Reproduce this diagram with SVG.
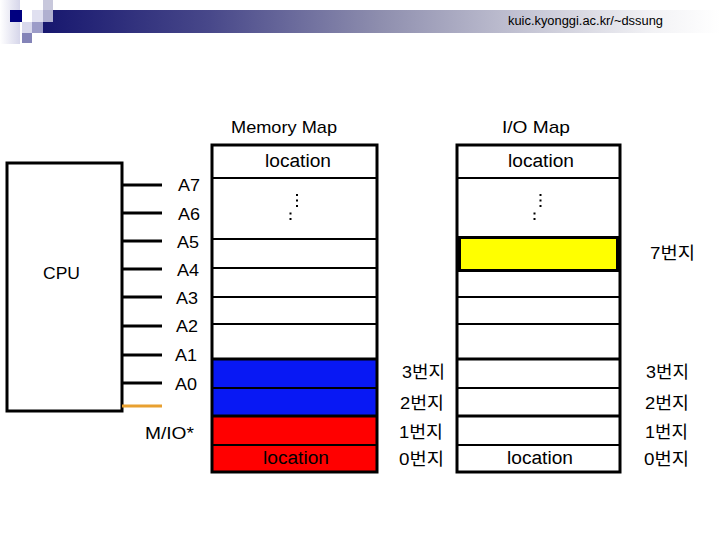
<svg xmlns="http://www.w3.org/2000/svg" width="720" height="540" viewBox="0 0 720 540">
<defs>
<linearGradient id="bar" x1="0" y1="0" x2="1" y2="0">
<stop offset="0" stop-color="#16166e"/>
<stop offset="0.25" stop-color="#48488a"/>
<stop offset="0.5" stop-color="#8e8eae"/>
<stop offset="0.75" stop-color="#cdcdda"/>
<stop offset="0.9" stop-color="#f2f2f5"/>
<stop offset="1" stop-color="#ffffff"/>
</linearGradient>
<linearGradient id="fade" x1="0" y1="0" x2="1" y2="0">
<stop offset="0" stop-color="#ffffff"/>
<stop offset="1" stop-color="#d6d6ea"/>
</linearGradient>
</defs>
<style>
text{font-family:"Liberation Sans","Noto Sans CJK KR",Arial,sans-serif;fill:#000}
.lbl{font-size:17px}
.big{font-size:18px}
.ko{font-size:17px}
.col{fill:none;stroke:#000;stroke-width:3}
.ln{stroke:#000;stroke-width:2}
.tk{stroke:#000;stroke-width:3}
.pin{stroke:#000;stroke-width:3}
.dot{fill:#000}
</style>
<rect width="720" height="540" fill="#fff"/>
<g id="header">
<rect x="0" y="0" width="20" height="44" fill="url(#fade)"/>
<rect x="40" y="10" width="680" height="23" fill="url(#bar)"/>
<rect x="10" y="10" width="12" height="12" fill="#000080"/>
<rect x="43" y="0" width="10" height="10" fill="#c8c8dc"/>
<rect x="32" y="10" width="11" height="12" fill="#e0e0f0"/>
<rect x="43" y="10" width="10" height="12" fill="#b0b0d0"/>
<rect x="22" y="22" width="10" height="11" fill="#d8d8ec"/>
<rect x="32" y="22" width="11" height="11" fill="#9c9cc8"/>
<rect x="22" y="33" width="10" height="10" fill="#8484b8"/>
<text x="508" y="25" font-size="12" textLength="155" lengthAdjust="spacingAndGlyphs">kuic.kyonggi.ac.kr/~dssung</text>
</g>
<g id="cpu">
<rect x="7" y="163" width="115" height="248" fill="#fff" stroke="#000" stroke-width="3"/>
<text x="43" y="279" class="lbl" textLength="37" lengthAdjust="spacingAndGlyphs">CPU</text>
</g>
<g id="connectors">
<line class="pin" x1="122" y1="185" x2="162" y2="185"/>
<line class="pin" x1="122" y1="213" x2="162" y2="213"/>
<line class="pin" x1="122" y1="241" x2="162" y2="241"/>
<line class="pin" x1="122" y1="269" x2="162" y2="269"/>
<line class="pin" x1="122" y1="297" x2="162" y2="297"/>
<line class="pin" x1="122" y1="326" x2="162" y2="326"/>
<line class="pin" x1="122" y1="355" x2="162" y2="355"/>
<line class="pin" x1="122" y1="383" x2="162" y2="383"/>
<line x1="122" y1="406" x2="162" y2="406" stroke="#e8a030" stroke-width="3"/>
</g>
<g id="pins">
<text x="178" y="191" class="lbl" textLength="22" lengthAdjust="spacingAndGlyphs">A7</text>
<text x="178" y="220" class="lbl" textLength="22" lengthAdjust="spacingAndGlyphs">A6</text>
<text x="177" y="248" class="lbl" textLength="22" lengthAdjust="spacingAndGlyphs">A5</text>
<text x="177" y="276" class="lbl" textLength="22" lengthAdjust="spacingAndGlyphs">A4</text>
<text x="176" y="304" class="lbl" textLength="22" lengthAdjust="spacingAndGlyphs">A3</text>
<text x="176" y="332" class="lbl" textLength="22" lengthAdjust="spacingAndGlyphs">A2</text>
<text x="175" y="361" class="lbl" textLength="22" lengthAdjust="spacingAndGlyphs">A1</text>
<text x="175" y="390" class="lbl" textLength="22" lengthAdjust="spacingAndGlyphs">A0</text>
<text x="145" y="439" class="lbl" textLength="49" lengthAdjust="spacingAndGlyphs">M/IO*</text>
</g>
<g id="memory-map">
<text x="231" y="133" class="lbl" textLength="106" lengthAdjust="spacingAndGlyphs">Memory Map</text>
<rect x="212" y="145" width="165" height="327" fill="#fff"/>
<rect x="212" y="359" width="165" height="57" fill="#0818f4"/>
<rect x="212" y="416" width="165" height="56" fill="#ff0000"/>
<line class="ln" x1="212" y1="178" x2="377" y2="178"/>
<line class="ln" x1="212" y1="239" x2="377" y2="239"/>
<line class="ln" x1="212" y1="268" x2="377" y2="268"/>
<line class="ln" x1="212" y1="297" x2="377" y2="297"/>
<line class="ln" x1="212" y1="324" x2="377" y2="324"/>
<line class="tk" x1="212" y1="359" x2="377" y2="359"/>
<line class="ln" x1="212" y1="388" x2="377" y2="388"/>
<line class="tk" x1="212" y1="416" x2="377" y2="416"/>
<line class="ln" x1="212" y1="445" x2="377" y2="445"/>
<rect class="col" x="212" y="145" width="165" height="327"/>
<text x="265" y="167" class="big" textLength="66" lengthAdjust="spacingAndGlyphs">location</text>
<text x="263" y="464" class="big" textLength="66" lengthAdjust="spacingAndGlyphs">location</text>
<rect class="dot" x="296" y="194" width="2" height="2"/>
<rect class="dot" x="296" y="199.5" width="2" height="2"/>
<rect class="dot" x="296" y="205" width="2" height="2"/>
<rect class="dot" x="289.5" y="212.5" width="2" height="2"/>
<rect class="dot" x="289.5" y="218" width="2" height="2"/>
</g>
<g id="io-map">
<text x="502" y="133" class="lbl" textLength="68" lengthAdjust="spacingAndGlyphs">I/O Map</text>
<rect x="457" y="145" width="163" height="327" fill="#fff"/>
<line class="ln" x1="457" y1="178" x2="620" y2="178"/>
<line class="ln" x1="457" y1="297" x2="620" y2="297"/>
<line class="ln" x1="457" y1="324" x2="620" y2="324"/>
<line class="tk" x1="457" y1="359" x2="620" y2="359"/>
<line class="ln" x1="457" y1="388" x2="620" y2="388"/>
<line class="tk" x1="457" y1="416" x2="621" y2="416"/>
<line class="ln" x1="457" y1="445" x2="621" y2="445"/>
<rect class="col" x="457" y="145" width="163" height="327"/>
<rect x="459.5" y="237.5" width="158" height="33" fill="#ffff00" stroke="#000" stroke-width="3"/>
<text x="508" y="167" class="big" textLength="66" lengthAdjust="spacingAndGlyphs">location</text>
<text x="507" y="464" class="big" textLength="66" lengthAdjust="spacingAndGlyphs">location</text>
<rect class="dot" x="539.5" y="194" width="2" height="2"/>
<rect class="dot" x="539.5" y="199.5" width="2" height="2"/>
<rect class="dot" x="539.5" y="205" width="2" height="2"/>
<rect class="dot" x="533.5" y="212.5" width="2" height="2"/>
<rect class="dot" x="533.5" y="218" width="2" height="2"/>
</g>
<g id="addresses">
<text x="402" y="378" class="ko" textLength="43" lengthAdjust="spacingAndGlyphs">3번지</text>
<text x="400" y="409" class="ko" textLength="44" lengthAdjust="spacingAndGlyphs">2번지</text>
<text x="399" y="438" class="ko" textLength="44" lengthAdjust="spacingAndGlyphs">1번지</text>
<text x="399" y="465" class="ko" textLength="45" lengthAdjust="spacingAndGlyphs">0번지</text>
<text x="650" y="259" class="ko" textLength="45" lengthAdjust="spacingAndGlyphs">7번지</text>
<text x="646" y="378" class="ko" textLength="43" lengthAdjust="spacingAndGlyphs">3번지</text>
<text x="645" y="409" class="ko" textLength="44" lengthAdjust="spacingAndGlyphs">2번지</text>
<text x="645" y="438" class="ko" textLength="43" lengthAdjust="spacingAndGlyphs">1번지</text>
<text x="644" y="465" class="ko" textLength="45" lengthAdjust="spacingAndGlyphs">0번지</text>
</g>
</svg>
